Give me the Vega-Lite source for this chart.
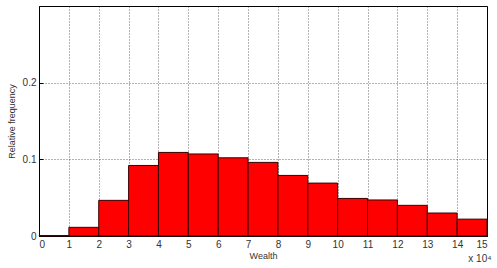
{
  "$schema": "https://vega.github.io/schema/vega-lite/v6.json",
  "autosize": {"type": "none"},
  "padding": {"left": 39, "top": 6, "right": 10, "bottom": 32},
  "width": 448,
  "height": 230,
  "background": "white",
  "title": {"text": "x 10⁴", "orient": "bottom", "anchor": "end", "fontSize": 10, "fontWeight": "normal", "font": "Liberation Sans", "color": "#333", "offset": -6, "dx": 4},
  "data": {"values": [
    {"start": 0, "end": 1, "freq": 0.0006},
    {"start": 1, "end": 2, "freq": 0.0113},
    {"start": 2, "end": 3, "freq": 0.0465},
    {"start": 3, "end": 4, "freq": 0.092},
    {"start": 4, "end": 5, "freq": 0.109},
    {"start": 5, "end": 6, "freq": 0.107},
    {"start": 6, "end": 7, "freq": 0.102},
    {"start": 7, "end": 8, "freq": 0.096},
    {"start": 8, "end": 9, "freq": 0.079},
    {"start": 9, "end": 10, "freq": 0.069},
    {"start": 10, "end": 11, "freq": 0.049},
    {"start": 11, "end": 12, "freq": 0.047},
    {"start": 12, "end": 13, "freq": 0.040},
    {"start": 13, "end": 14, "freq": 0.030},
    {"start": 14, "end": 15, "freq": 0.022}
  ]},
  "mark": {"type": "rect", "color": "#ff0000", "stroke": "#3a0000", "strokeWidth": 1},
  "encoding": {
    "x": {"field": "start", "type": "quantitative",
      "scale": {"domain": [0, 15], "nice": false, "zero": false},
      "axis": {"title": "Wealth", "values": [0,1,2,3,4,5,6,7,8,9,10,11,12,13,14,15], "format": "d", "titlePadding": 2}},
    "x2": {"field": "end"},
    "y": {"field": "freq", "type": "quantitative",
      "scale": {"domain": [0, 0.3], "nice": false},
      "axis": {"title": "Relative frequency", "values": [0, 0.1, 0.2], "format": "~g", "titlePadding": 6}},
    "y2": {"datum": 0}
  },
  "config": {
    "view": {"stroke": "#000", "strokeWidth": 1},
    "axis": {
      "labelFont": "Liberation Sans", "labelFontSize": 10, "labelColor": "#333",
      "titleFont": "Liberation Sans", "titleFontSize": 9, "titleFontWeight": "normal", "titleColor": "#333",
      "domainColor": "#000", "tickColor": "#000", "tickSize": -4, "labelPadding": 7,
      "grid": true, "gridColor": "#000", "gridDash": [1, 2], "gridOpacity": 0.6
    }
  }
}
